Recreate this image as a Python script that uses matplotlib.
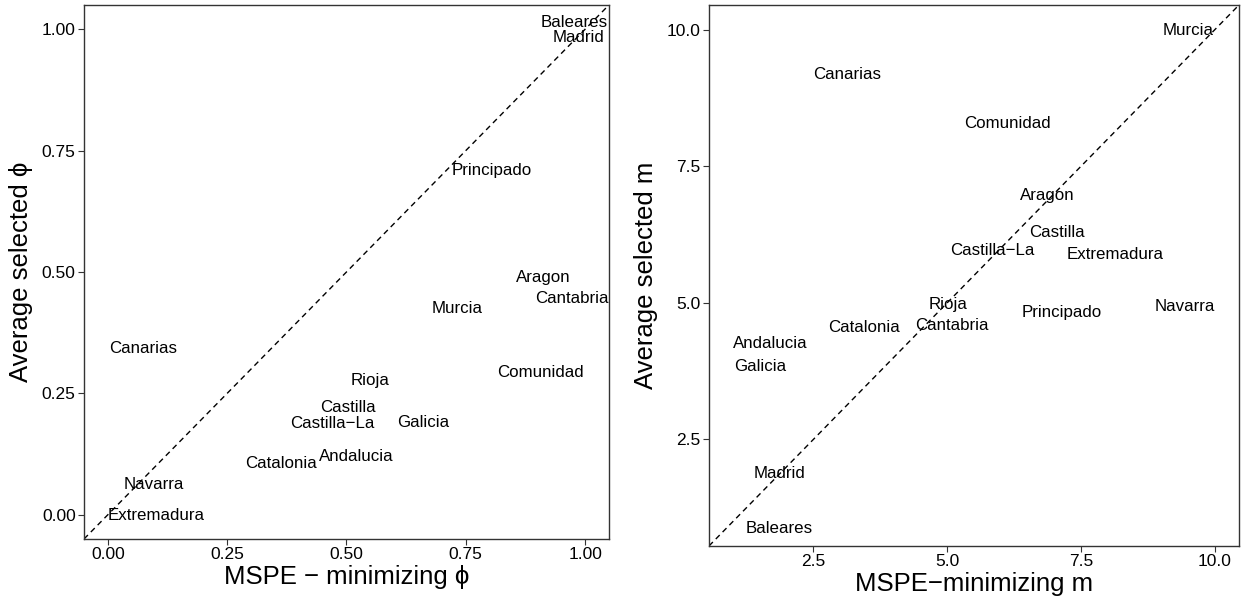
import numpy as np
import matplotlib
matplotlib.use('Agg')
import matplotlib.pyplot as plt

plt.rcParams['font.family'] = ['Liberation Sans', 'DejaVu Sans']

# left panel: phi
PhiRegions = ['Baleares', 'Madrid', 'Principado', 'Aragon', 'Cantabria', 'Murcia',
              'Canarias', 'Comunidad', 'Rioja', 'Castilla', 'Castilla\u2212La', 'Galicia',
              'Andalucia', 'Catalonia', 'Navarra', 'Extremadura']
PhiMSPE = [0.978, 0.987, 0.805, 0.913, 0.972, 0.732,
           0.073, 0.907, 0.550, 0.502, 0.470, 0.660,
           0.520, 0.363, 0.096, 0.102]
PhiAvg = [1.014, 0.984, 0.708, 0.488, 0.445, 0.425,
          0.342, 0.293, 0.277, 0.221, 0.188, 0.190,
          0.120, 0.105, 0.063, -0.001]
PhiTicks = [0.00, 0.25, 0.50, 0.75, 1.00]

# right panel: m
MRegions = ['Murcia', 'Canarias', 'Comunidad', 'Aragon', 'Castilla', 'Castilla\u2212La',
            'Extremadura', 'Rioja', 'Navarra', 'Principado', 'Catalonia', 'Cantabria',
            'Andalucia', 'Galicia', 'Madrid', 'Baleares']
MMSPE = [9.50, 3.13, 6.13, 6.87, 7.05, 5.85,
         8.13, 5.01, 9.43, 7.14, 3.45, 5.09,
         1.70, 1.50, 1.87, 1.86]
MAvg = [9.98, 9.17, 8.29, 6.97, 6.29, 5.95,
        5.89, 4.96, 4.93, 4.82, 4.55, 4.59,
        4.26, 3.83, 1.87, 0.87]
MTicks = [2.5, 5.0, 7.5, 10.0]

fig = plt.figure(figsize=(12.41, 5.98), dpi=100)
axL = fig.add_axes([0.0677, 0.0987, 0.4230, 0.8930])
axR = fig.add_axes([0.5713, 0.0870, 0.4271, 0.9047])


def style(ax, lo, hi, ticks, fmt):
    pad = 0.05 * (hi - lo)
    ax.set_xlim(lo - pad, hi + pad)
    ax.set_ylim(lo - pad, hi + pad)
    ax.plot([lo - pad, hi + pad], [lo - pad, hi + pad], color='black',
            linewidth=1.0, linestyle='--', dashes=(4, 3))
    ax.set_xticks(ticks)
    ax.set_yticks(ticks)
    ax.set_xticklabels([fmt % t for t in ticks])
    ax.set_yticklabels([fmt % t for t in ticks])
    ax.tick_params(direction='out', length=4, width=0.8, colors='#333333',
                   labelcolor='black', labelsize=12.5, pad=2)
    for s in ax.spines.values():
        s.set_color('#333333')
        s.set_linewidth(1.0)


style(axL, 0.0, 1.0, PhiTicks, '%.2f')
for name, x, y in zip(PhiRegions, PhiMSPE, PhiAvg):
    axL.text(x, y, name, ha='center', va='center', fontsize=12.2)
axL.set_xlabel('MSPE \u2212 minimizing \u03d5', fontsize=18.5, labelpad=2)
axL.set_ylabel('Average selected \u03d5', fontsize=18.5, labelpad=6)

style(axR, 1.0, 10.0, MTicks, '%.1f')
for name, x, y in zip(MRegions, MMSPE, MAvg):
    axR.text(x, y, name, ha='center', va='center', fontsize=12.2)
axR.set_xlabel('MSPE\u2212minimizing m', fontsize=18.5, labelpad=2)
axR.set_ylabel('Average selected m', fontsize=18.5, labelpad=6)

plt.savefig('out.png', dpi=100)
